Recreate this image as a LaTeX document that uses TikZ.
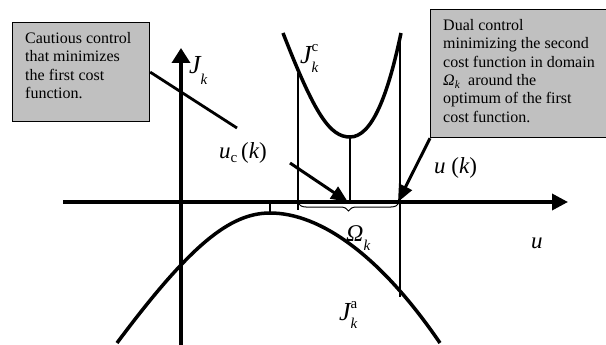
\documentclass[tikz,border=0pt]{standalone}
\usepackage{fontspec}
\setmainfont{Liberation Serif}
\usetikzlibrary{arrows.meta,decorations.pathreplacing}
\definecolor{boxgray}{RGB}{192,192,192}
\newcommand\supsc[2]{\raisebox{#1}{\upshape\fontsize{15}{17}\selectfont #2}}
\newcommand\subsc[2]{\raisebox{#1}{\fontsize{15}{17}\selectfont\itshape #2}}
\newcommand\bigJ{{\fontsize{26}{28}\selectfont J}}
\begin{document}
\begin{tikzpicture}[x=1pt,y=-1pt,
  thickcurve/.style={line width=3.5pt},
  thinline/.style={line width=1.2pt},
  axisline/.style={line width=3.5pt},
  ptr/.style={line width=3pt,-{Triangle[length=17pt,width=14pt]}},
  box/.style={draw,fill=boxgray,line width=1.2pt,anchor=north west,inner sep=0pt},
  boxtext/.style={anchor=north west,inner sep=0pt,align=left,font=\fontsize{16}{18.4}\selectfont},
  lbl/.style={inner sep=0pt,anchor=base west,font=\fontsize{23}{26}\selectfont\itshape}]
\useasboundingbox (0,0) rectangle (606,345);

% boxes
\node[box,minimum width=137pt,minimum height=99pt] (boxL) at (12,22) {};
\node[box,minimum width=190pt,minimum height=128pt] (boxR) at (430,9) {};
\node[boxtext] (tL) at (25,32) {Cautious control\\that minimizes\\the first cost\\function.};
\node[boxtext] (tR) at (443,19) {Dual control\\minimizing the second\\cost function in domain\\{\itshape Ω}\textsubscript{\itshape k}\ \ around the\\optimum of the first\\cost function.};

% axes
\coordinate (uL) at (63,202);
\coordinate (uR) at (568,202);
\coordinate (jB) at (181,345);
\coordinate (jT) at (181,48);
\draw[axisline,-{Triangle[length=16pt,width=16pt]}] (uL) -- (uR);
\draw[axisline,-{Triangle[length=15pt,width=18pt]}] (jB) -- (jT);

% J^c curve
\draw[thickcurve] (283,33) .. controls (315,115) and (330,137) .. (350,137)
  .. controls (372,137) and (388,95) .. (401,33);
% J^a curve
\draw[thickcurve] (117,343) .. controls (190,245) and (230,213) .. (270,213)
  .. controls (320,213) and (380,255) .. (440,343);

% thin verticals
\coordinate (vLt) at (298,73);  \coordinate (vLb) at (298,210);
\coordinate (vMt) at (350,137); \coordinate (vMb) at (350,202);
\coordinate (vRt) at (400,33);  \coordinate (vRb) at (400,297);
\coordinate (pkt) at (270,202); \coordinate (pkb) at (270,213);
\draw[thinline] (vLt) -- (vLb);
\draw[thinline] (vMt) -- (vMb);
\draw[thinline] (vRt) -- (vRb);
\draw[thinline] (pkt) -- (pkb);

% brace
\coordinate (brL) at (298,203);
\coordinate (brR) at (399,203);
\draw[line width=1pt,decorate,decoration={brace,mirror,amplitude=8pt}] (brL) -- (brR);

% pointer from left box
\coordinate (lEnd) at (237,128);
\draw[line width=2.8pt] (boxL.east) -- (lEnd);

% arrows
\coordinate (ucS) at (290,163);
\coordinate (ucT) at (348,202);
\draw[ptr] (ucS) -- (ucT);
\coordinate (ukT) at (398,202);
\draw[ptr] (boxR.south west) -- (ukT);

% labels
\node[lbl] (lJk) at (189,74) {\bigJ\subsc{-11pt}{k}};
\node[lbl] (lJc) at (300,64) {\bigJ\rlap{\supsc{12pt}{c}}\subsc{-9pt}{k}};
\node[lbl] (lJa) at (339,320) {\bigJ\rlap{\supsc{12pt}{a}}\subsc{-8pt}{k}};
\node[lbl] (lOm) at (346,241) {{\fontsize{24}{26}\selectfont Ω}\subsc{-9pt}{k}};
\node[lbl] (lu) at (531,248) {u};
\node[lbl] (luc) at (219,158) {u\raisebox{-4pt}{\upshape\fontsize{15}{17}\selectfont c}\,{\upshape(}k{\upshape)}};
\node[lbl] (luk) at (434,173) {u {\upshape(}k{\upshape)}};
\end{tikzpicture}
\end{document}
